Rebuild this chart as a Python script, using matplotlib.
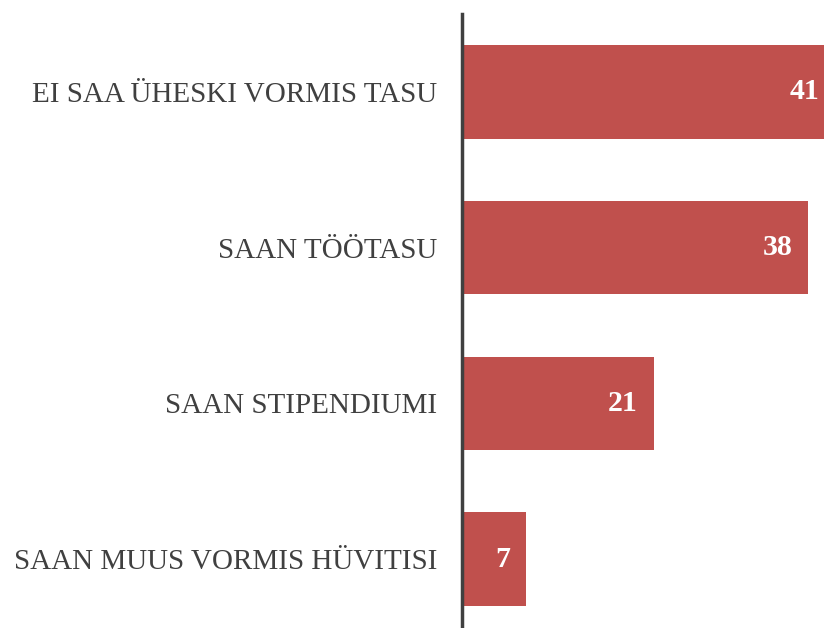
import matplotlib
matplotlib.use("Agg")
import matplotlib.pyplot as plt

categories = ["EI SAA ÜHESKI VORMIS TASU", "SAAN TÖÖTASU", "SAAN STIPENDIUMI", "SAAN MUUS VORMIS HÜVITISI"]
values = [41, 38, 21, 7]

bar_color = "#C0504D"
text_color = "#404040"

fig = plt.figure(figsize=(8.24, 6.28), dpi=100)
W, H = 824, 628
left, right = 462.5, 824
top, bottom = 14, 637
ax = fig.add_axes([left / W, (H - bottom) / H, (right - left) / W, (bottom - top) / H])

y = list(range(len(categories)))
ax.barh(y, values, height=0.6, color=bar_color, zorder=1)
ax.set_ylim(3.5, -0.5)
ax.set_xlim(0, (right - left) / 9.1)

ax.set_yticks(y)
ax.set_yticklabels(categories, fontsize=21, color=text_color, family="Liberation Serif")
ax.tick_params(axis="y", length=0, pad=18)
ax.set_xticks([])

for s in ["top", "right", "bottom"]:
    ax.spines[s].set_visible(False)
ax.spines["left"].set_color(text_color)
ax.spines["left"].set_linewidth(2.5)
ax.spines["left"].set_zorder(3)

for yi, v in zip(y, values):
    ax.annotate(str(v), xy=(v, yi), xytext=(-16, 0), textcoords="offset pixels",
                ha="right", va="center", fontsize=21.5, fontweight="bold",
                color="white", family="Liberation Serif", annotation_clip=False)

fig.savefig("out.png", dpi=100)
